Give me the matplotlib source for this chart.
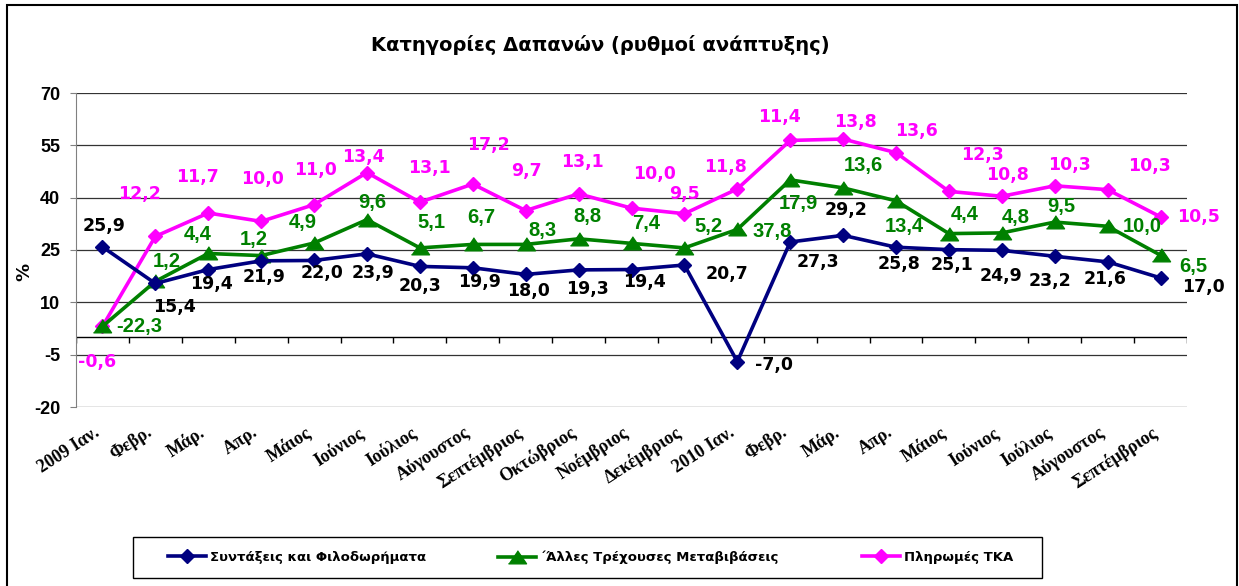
import numpy as np
import matplotlib
matplotlib.use("Agg")
import matplotlib.pyplot as plt
from matplotlib.patches import Rectangle
from matplotlib.lines import Line2D

plt.rcParams["axes.unicode_minus"] = False

months = ["2009 Ιαν.", "Φεβρ.", "Μάρ.", "Απρ.", "Μάιος", "Ιούνιος", "Ιούλιος",
          "Αύγουστος", "Σεπτέμβριος", "Οκτώβριος", "Νοέμβριος", "Δεκέμβριος",
          "2010 Ιαν.", "Φεβρ.", "Μάρ.", "Απρ.", "Μάιος", "Ιούνιος", "Ιούλιος",
          "Αύγουστος", "Σεπτέμβριος"]

# plotted values
pensions = [25.9, 15.4, 19.4, 21.9, 22.0, 23.9, 20.3, 19.9, 18.0, 19.3, 19.4,
            20.7, -7.0, 27.3, 29.2, 25.8, 25.1, 24.9, 23.2, 21.6, 17.0]
other_transfers = [3.1, 16.0, 24.0, 23.4, 27.0, 33.7, 25.6, 26.6, 26.6, 28.2, 26.9,
                   25.6, 30.9, 45.1, 42.8, 39.1, 29.7, 29.9, 33.0, 31.8, 23.5]
tka_payments = [3.1, 28.9, 35.6, 33.2, 38.0, 47.2, 38.7, 43.9, 36.3, 41.1, 37.0,
                35.4, 42.5, 56.4, 56.8, 52.9, 41.8, 40.4, 43.4, 42.3, 34.5]

# data labels as printed on the chart
pensions_lbl = pensions
other_lbl = [-22.3, 1.2, 4.4, 1.2, 4.9, 9.6, 5.1, 6.7, 8.3, 8.8, 7.4, 5.2, 37.8,
             17.9, 13.6, 13.4, 4.4, 4.8, 9.5, 10.0, 6.5]
tka_lbl = [-0.6, 12.2, 11.7, 10.0, 11.0, 13.4, 13.1, 17.2, 9.7, 13.1, 10.0, 9.5,
           11.8, 11.4, 13.8, 13.6, 12.3, 10.8, 10.3, 10.3, 10.5]

series_names = ["Συντάξεις και Φιλοδωρήματα", "΄Άλλες Τρέχουσες Μεταβιβάσεις",
                "Πληρωμές ΤΚΑ"]

# label offsets in pixels (x right, y down)
pensions_off = [(2, -21), (19, 24), (3, 14), (3, 16), (8, 13), (6, 19), (0, 20),
                (7, 14), (3, 17), (9, 19), (13, 12), (43, 9), (37, 3), (28, 20),
                (3, -25), (3, 17), (3, 15), (-1, 26), (-5, 25), (-3, 17), (43, 9)]
other_off = [(37, 0), (11, -20), (-11, -19), (-7, -16), (-11, -21), (5, -17),
             (12, -25), (9, -27), (17, -14), (9, -22), (15, -20), (24, -21),
             (35, 2), (8, 24), (20, -22), (8, 26), (16, -19), (14, -15),
             (7, -16), (35, 0), (33, 11)]
tka_off = [(-5, 36), (-16, -42), (-11, -36), (1, -42), (1, -35), (-4, -16),
           (10, -34), (16, -39), (1, -40), (4, -32), (23, -34), (0, -20),
           (-12, -22), (-11, -23), (12, -17), (20, -22), (34, -36), (6, -21),
           (15, -21), (42, -24), (38, 0)]

NAVY = "#000080"
GREEN = "#008000"
PINK = "#FF00FF"
TRI = [(-1, -0.7), (1, -0.7), (0, 0.75)]

W, H = 1239, 586
fig = plt.figure(figsize=(W / 100, H / 100), dpi=100)
ax = fig.add_axes([76 / W, 1 - 407 / H, (1187 - 76) / W, (407 - 93) / H])

x = np.arange(len(months))
ax.plot(x, pensions, color=NAVY, lw=2.6, marker="D", ms=7, zorder=5)
ax.plot(x, other_transfers, color=GREEN, lw=2.6, marker=TRI, ms=13, zorder=4)
ax.plot(x, tka_payments, color=PINK, lw=2.6, marker="D", ms=7, zorder=3)


def fmt(v):
    return f"{v:.1f}".replace(".", ",")


for xs, ys, labels, offs, col, fam, wt, fs in [
        (x, pensions, pensions_lbl, pensions_off, "black", "DejaVu Sans", "bold", 12.5),
        (x, other_transfers, other_lbl, other_off, GREEN, "Liberation Sans", "bold", 14.5),
        (x, tka_payments, tka_lbl, tka_off, PINK, "DejaVu Sans", "bold", 12.5)]:
    for xi, yi, lab, (dx, dy) in zip(xs, ys, labels, offs):
        ax.annotate(fmt(lab), (xi, yi), xytext=(dx, -dy), textcoords="offset pixels",
                    ha="center", va="center", fontsize=fs, color=col,
                    family=fam, weight=wt, zorder=6)

ax.set_xlim(-0.5, len(months) - 0.5)
ax.set_ylim(-20, 70)
ax.set_yticks(np.arange(-20, 71, 15))
ax.yaxis.grid(True, color="#333333", lw=0.9)
ax.set_axisbelow(True)

ax.set_xticks(x)
ax.set_xticklabels(months, rotation=33, ha="right", family="Liberation Serif",
                   weight="bold", fontsize=13)
ax.tick_params(axis="x", length=0, pad=12)
ax.tick_params(axis="y", length=4.5, color="#808080", pad=7)
for t in ax.get_yticklabels():
    t.set_family("Liberation Sans")
    t.set_weight("bold")
    t.set_fontsize(13)

for s in ["top", "right", "bottom"]:
    ax.spines[s].set_visible(False)
ax.spines["left"].set_color("#808080")

# category axis crosses at zero
ax.axhline(0, color="black", lw=1, zorder=2)
ax.vlines(np.arange(-0.5, len(months), 1), -1.7, 0, color="black", lw=1, zorder=2)

fig.text(24 / W, 1 - 272 / H, "%", rotation=90, ha="center", va="center",
         fontsize=13, weight="bold", family="DejaVu Sans")

fig.text(600 / W, 1 - 45 / H, "Κατηγορίες Δαπανών (ρυθμοί ανάπτυξης)",
         ha="center", va="center", fontsize=14, weight="bold", family="DejaVu Sans")

# outer chart frame
fig.patches.append(Rectangle((7 / W, -0.02), (1237 - 7) / W, 1 - 5 / H + 0.02,
                             transform=fig.transFigure, fill=False,
                             edgecolor="black", lw=1.5))

# legend box and entries
fig.patches.append(Rectangle((133 / W, 1 - 578 / H), (1042 - 133) / W, 41 / H,
                             transform=fig.transFigure, fill=False,
                             edgecolor="black", lw=1))
handles = [Line2D([], [], color=NAVY, lw=2.6, marker="D", ms=7),
           Line2D([], [], color=GREEN, lw=2.6, marker=TRI, ms=13),
           Line2D([], [], color=PINK, lw=2.6, marker="D", ms=7)]
for h, name, xpos in zip(handles, series_names, [168, 498, 862]):
    leg = fig.legend([h], [name], loc="center left",
                     bbox_to_anchor=(xpos / W, 1 - 557.5 / H), frameon=False,
                     borderpad=0, borderaxespad=0, handlelength=2.9,
                     handletextpad=0.3, numpoints=1,
                     prop={"family": "DejaVu Sans", "weight": "bold", "size": 9.5})

fig.savefig("out.png", dpi=100)
